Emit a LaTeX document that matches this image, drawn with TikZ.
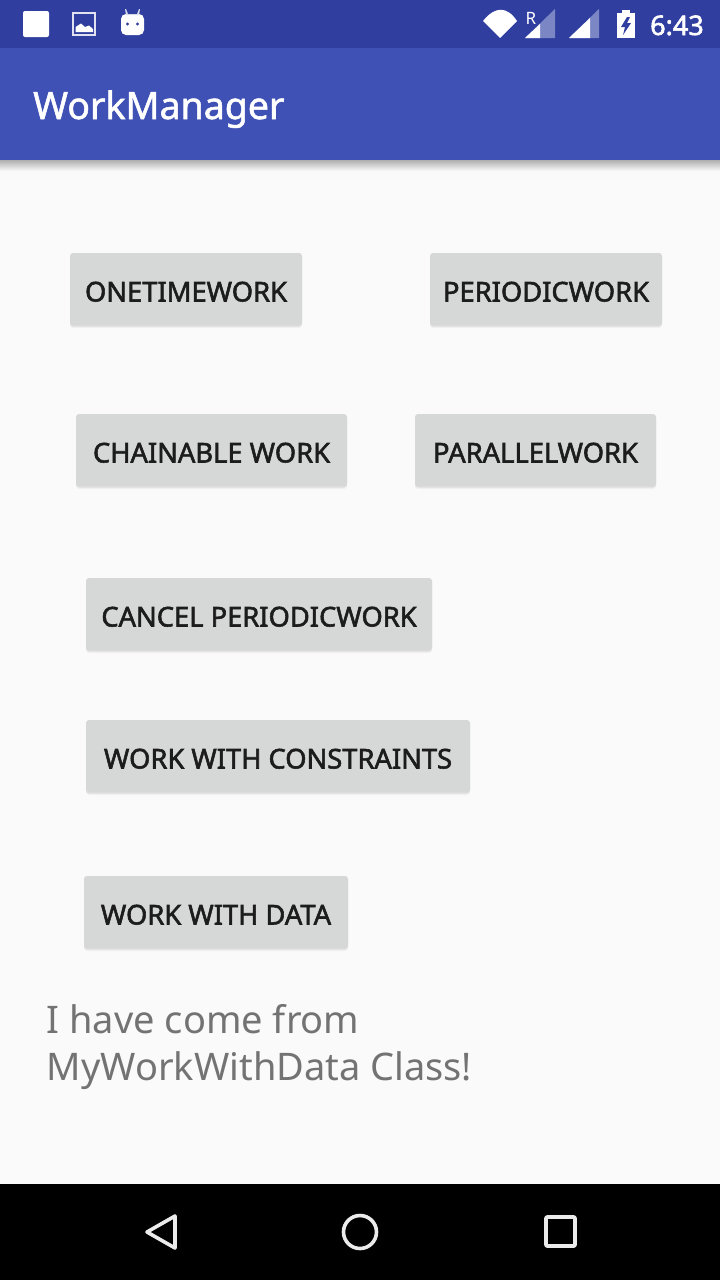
\documentclass[tikz,border=0pt]{standalone}
\usepackage{fontspec}
\setmainfont{Noto Sans}
\usetikzlibrary{shapes.geometric}
\definecolor{statusblue}{HTML}{303F9F}
\definecolor{barblue}{HTML}{3F51B5}
\definecolor{pagebg}{HTML}{FAFAFA}
\definecolor{btngray}{HTML}{D6D7D7}
\definecolor{btntext}{HTML}{1C1C1C}
\definecolor{msggray}{HTML}{737373}
\definecolor{signaldim}{HTML}{7B86C4}
\tikzset{
  medium/.style={execute at begin node={\special{pdf:code 2 Tr 0.55 w}},
    execute at end node={\special{pdf:code 0 Tr}}},
  btn/.style={rectangle, rounded corners=3pt, fill=btngray, inner sep=0pt, minimum height=72pt,
    text height=25pt, text depth=0pt, text=btntext, font=\fontsize{27.3}{27.3}\selectfont, medium,
    preaction={fill=black, opacity=0.04, transform canvas={yshift=-3pt}},
    preaction={fill=black, opacity=0.08, transform canvas={yshift=-1.5pt}}},
  navicon/.style={draw=white!92!black, line width=3.6pt, line join=round},
}
\begin{document}
\begin{tikzpicture}[x=1pt, y=-1pt]
  \useasboundingbox (0, 0) rectangle (720, 1280);

  % backgrounds
  \fill[pagebg] (0, 0) rectangle (720, 1280);
  \shade[top color=black!30!pagebg, bottom color=pagebg] (0, 160) rectangle (720, 171);
  \fill[barblue] (0, 48) rectangle (720, 160);
  \fill[statusblue] (0, 0) rectangle (720, 48);
  \fill[black] (0, 1184) rectangle (720, 1280);

  % status bar left
  \fill[white, rounded corners=2pt] (23, 11) rectangle (49, 37);
  \draw[white!85!statusblue, line width=1.5pt] (73, 13) rectangle (95, 35);
  \fill[white] (75.5, 32) -- (75.5, 27) -- (81, 23.5) -- (85, 27) -- (89, 25.5) -- (93, 29) -- (93, 32) -- cycle;
  \fill[white, rounded corners=5pt] (121, 14) rectangle (144, 35);
  \fill[white!80!statusblue] (125, 9) -- (126, 9) -- (128, 14) -- (137, 14) -- (139, 9) -- (140, 9) -- (139, 15) -- (126, 15) -- cycle;
  \fill[statusblue] (127.5, 24) circle (1.6pt) (137.5, 24) circle (1.6pt);

  % status bar right
  \fill[white] (483, 21) .. controls (495, 6) and (507, 6) .. (517, 21) -- (500, 38) -- cycle;
  \fill[signaldim] (525, 38) -- (555, 9) -- (555, 38) -- cycle;
  \fill[white] (525, 38) -- (540, 24) -- (540, 38) -- cycle;
  \fill[signaldim] (569, 38) -- (599, 9) -- (599, 38) -- cycle;
  \fill[white] (569, 38) -- (590, 18) -- (590, 38) -- cycle;
  \fill[white] (617, 13) rectangle (635, 38);
  \fill[white] (622, 10) rectangle (630, 13);
  \fill[statusblue] (627, 17) -- (621, 27) -- (625, 27) -- (623, 35) -- (631, 23) -- (627, 23) -- (630, 17) -- cycle;
  \node[text=white, font=\fontsize{27}{27}\selectfont, medium, anchor=base west, inner sep=0pt] (clock) at (650, 35) {6:43};
  \node[text=white, font=\bfseries\fontsize{17}{17}\selectfont, anchor=base, inner sep=0pt] (roam) at (531, 24) {R};

  % action bar
  \node[text=white, font=\fontsize{37.5}{37.5}\selectfont, medium, anchor=base west, inner sep=0pt] (title) at (33, 119) {WorkManager};

  % buttons
  \node[btn, minimum width=232pt] (onetime) at (186, 289) {ONETIMEWORK};
  \node[btn, minimum width=232pt] (periodic) at (546, 289) {PERIODICWORK};
  \node[btn, minimum width=271pt] (chainable) at (211.5, 450) {CHAINABLE WORK};
  \node[btn, minimum width=241pt] (parallel) at (535.5, 450) {PARALLELWORK};
  \node[btn, minimum width=346pt] (cancel) at (259, 614) {CANCEL PERIODICWORK};
  \node[btn, minimum width=384pt] (constraints) at (278, 756) {WORK WITH CONSTRAINTS};
  \node[btn, minimum width=264pt] (withdata) at (216, 912) {WORK WITH DATA};

  % message
  \node[text=msggray, font=\fontsize{38}{47}\selectfont, anchor=base west, inner sep=0pt, align=left] (message) at (46.5, 1080) {I have come from\\MyWorkWithData Class!};

  % navigation bar
  \draw[navicon] (175, 1216) -- (175, 1248) -- (147, 1232) -- cycle;
  \draw[navicon] (360, 1232) circle (16.5pt);
  \draw[navicon, rounded corners=1pt] (546, 1217) rectangle (575, 1246);
\end{tikzpicture}
\end{document}
